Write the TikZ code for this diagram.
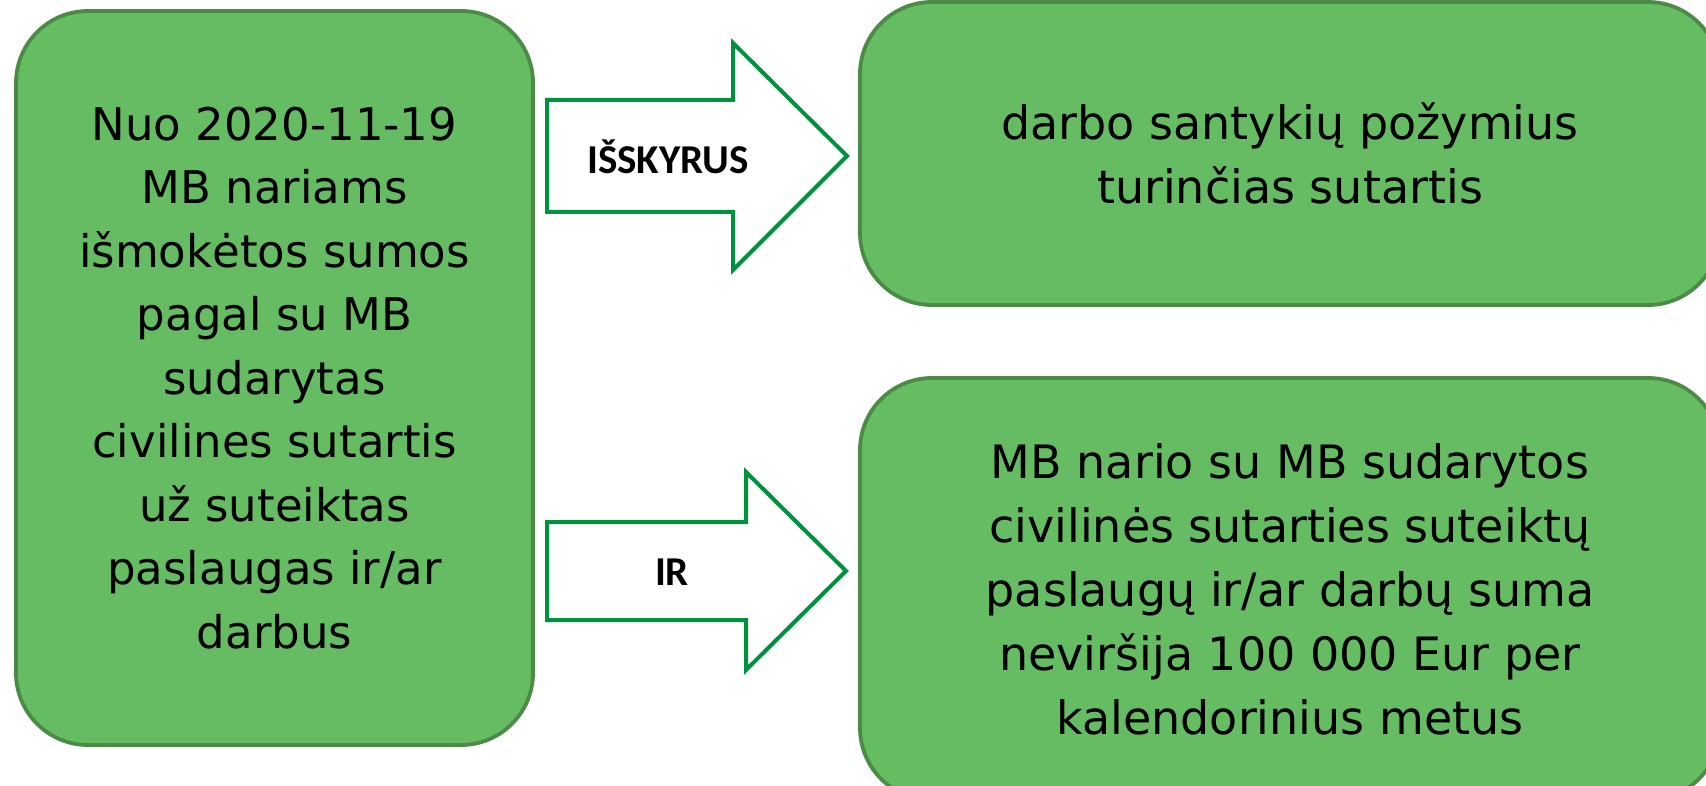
\documentclass[tikz,border=0pt]{standalone}
\usepackage{fontspec}
\setmainfont{DejaVu Sans}
\newfontfamily\labfont{Carlito}
\definecolor{boxfill}{HTML}{66BC63}
\definecolor{boxline}{HTML}{4B8B46}
\definecolor{arrline}{HTML}{00913F}
\tikzset{
  box/.style={draw=boxline, line width=3.8pt, fill=boxfill, rounded corners=72pt,
    align=center, inner sep=0pt, font=\fontsize{45}{63.5}\selectfont},
  bigtext/.style={font=\fontsize{46}{64}\selectfont},
  blockarrow/.style={draw=arrline, line width=4pt, fill=white, line join=miter},
  arrlabel/.style={font=\labfont\bfseries\fontsize{41}{41}\selectfont, inner sep=0pt}
}
\begin{document}
\begin{tikzpicture}[x=1pt,y=-1pt]
\useasboundingbox (0,0) rectangle (1706,786);
\clip (0,0) rectangle (1706,786);
\fill[white] (0,0) rectangle (1706,786);

\node[box, minimum width=517pt, minimum height=734pt] (src) at (274.5,378)
  {Nuo 2020-11-19\\MB nariams\\išmokėtos sumos\\pagal su MB\\sudarytas\\civilines sutartis\\už suteiktas\\paslaugas ir/ar\\darbus};

\node[box, bigtext, minimum width=860pt, minimum height=303pt] (top) at (1290,153.5)
  {darbo santykių požymius\\turinčias sutartis};

\node[box, bigtext, minimum width=860pt, minimum height=422pt] (bot) at (1290,589)
  {MB nario su MB sudarytos\\civilinės sutarties suteiktų\\paslaugų ir/ar darbų suma\\neviršija 100 000 Eur per\\kalendorinius metus};

% block arrow 1
\draw[blockarrow] (547,100) -- (733,100) -- (733,43) -- (847,156) -- (733,270) -- (733,212) -- (547,212) -- cycle;
\node[arrlabel] (l1) at (668,157) {IŠSKYRUS};

% block arrow 2
\draw[blockarrow] (547,522) -- (746,522) -- (746,472) -- (846,571) -- (746,670) -- (746,620) -- (547,620) -- cycle;
\node[arrlabel] (l2) at (672,572) {IR};
\end{tikzpicture}
\end{document}
